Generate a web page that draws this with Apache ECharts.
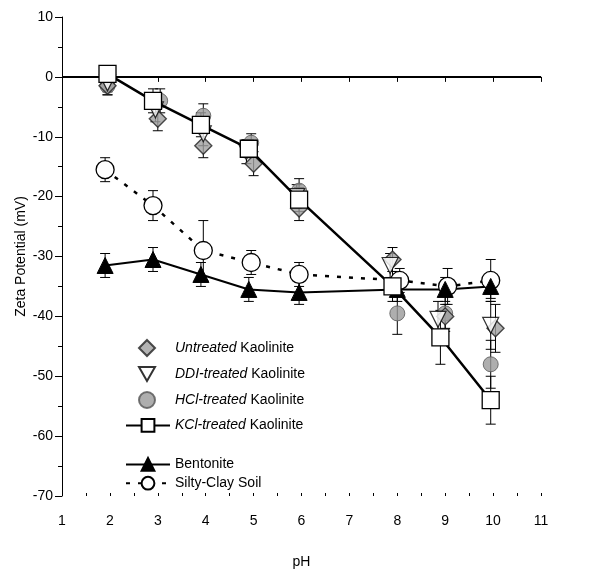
<!DOCTYPE html>
<html>
<head>
<meta charset="utf-8">
<script src="https://cdn.jsdelivr.net/npm/echarts@6/dist/echarts.min.js"></script>
<style>
  html, body { margin: 0; padding: 0; background: #fff; }
  #chart { width: 599px; height: 574px; }
</style>
</head>
<body>
<div id="chart"></div>
<script>
// Zeta potential of clays as a function of pH

// Untreated kaolinite
const untreatedPH   = [1.95, 3.0, 3.95, 5.0, 5.95, 7.9, 9.0, 10.05];
const untreatedZeta = [-1.5, -7, -11.5, -14.5, -22, -30.5, -40, -42];
const untreatedErr  = [1.5, 2, 2, 2, 2, 2, 2, 4];

// DDI-treated kaolinite
const ddiPH   = [1.95, 2.95, 3.95, 4.85, 5.9, 7.85, 8.85, 9.95];
const ddiZeta = [-1, -5.5, -9.5, -12.5, -20, -31.5, -40.5, -41.5];
const ddiErr  = [1.5, 2, 2, 2, 2, 2, 3, 4];

// HCl-treated kaolinite
const hclPH   = [1.95, 3.05, 3.95, 4.95, 5.95, 8.0, 9.0, 9.95];
const hclZeta = [-1.5, -4, -6.5, -11, -19, -39.5, -39.5, -48];
const hclErr  = [1.5, 2, 2, 1.5, 2, 3.5, 3, 4];

// KCl-treated kaolinite
const kclPH   = [1.95, 2.9, 3.9, 4.9, 5.95, 7.9, 8.9, 9.95];
const kclZeta = [0.5, -4, -8, -12, -20.5, -35, -43.5, -54];
const kclErr  = [1, 2, 2, 1.5, 2, 2.5, 4.5, 4];

// Bentonite
const bentPH   = [1.9, 2.9, 3.9, 4.9, 5.95, 8.0, 9.0, 9.95];
const bentZeta = [-31.5, -30.5, -33, -35.5, -36, -35.5, -35.5, -35];
const bentErr  = [2, 2, 2, 2, 2, 2, 2, 2];

// Silty-clay soil
const siltPH   = [1.9, 2.9, 3.95, 4.95, 5.95, 8.05, 9.05, 9.95];
const siltZeta = [-15.5, -21.5, -29, -31, -33, -34, -35, -34];
const siltErr  = [2, 2.5, 5, 2, 2, 2, 3, 3.5];

// Axis ticks
const xTicks = { min: 1, max: 11, step: 1, minorStep: 0.5 };
const yTicks = { min: -70, max: 10, step: 10 };

const FONT = 'Liberation Sans, Arial, sans-serif';

const pts = (xs, ys) => xs.map((x, i) => [x, ys[i]]);
const bars = (xs, ys, es) => xs.map((x, i) => [x, ys[i] - es[i], ys[i] + es[i]]);

function errorBarItem(params, api) {
  const x = api.value(0);
  const lo = api.coord([x, api.value(1)]);
  const hi = api.coord([x, api.value(2)]);
  const hw = 5;
  const style = { stroke: '#000', lineWidth: 1 };
  return {
    type: 'group',
    children: [
      { type: 'line', shape: { x1: lo[0], y1: lo[1], x2: hi[0], y2: hi[1] }, style },
      { type: 'line', shape: { x1: lo[0] - hw, y1: lo[1], x2: lo[0] + hw, y2: lo[1] }, style },
      { type: 'line', shape: { x1: hi[0] - hw, y1: hi[1], x2: hi[0] + hw, y2: hi[1] }, style }
    ]
  };
}

function errSeries(xs, ys, es) {
  return {
    type: 'custom',
    renderItem: errorBarItem,
    data: bars(xs, ys, es),
    encode: { x: 0, y: [1, 2] },
    z: 1,
    silent: true,
    tooltip: { show: false }
  };
}

// Legend labels; the spacer keeps marker-only entries aligned with line entries
const labelText = {
  'Untreated Kaolinite': '{sp|}{i|Untreated} Kaolinite',
  'DDI-treated Kaolinite': '{sp|}{i|DDI-treated} Kaolinite',
  'HCl-treated Kaolinite': '{sp|}{i|HCl-treated} Kaolinite',
  'KCl-treated Kaolinite': '{i|KCl-treated} Kaolinite',
  'Bentonite': 'Bentonite',
  'Silty-Clay Soil': 'Silty-Clay Soil'
};

const legendText = {
  fontFamily: FONT, fontSize: 14, color: '#000',
  rich: {
    i: { fontFamily: FONT, fontSize: 14, fontStyle: 'italic', color: '#000' },
    sp: { width: 15 }
  }
};

const legendBase = {
  orient: 'vertical',
  itemHeight: 16,
  formatter: n => labelText[n],
  textStyle: legendText,
  selectedMode: false
};

// downward-pointing triangle for the DDI legend entry
const downTriangle = 'path://M0,0L16,0L8,14Z';

const chart = echarts.init(document.getElementById('chart'), null, { renderer: 'canvas' });

chart.setOption({
  animation: false,
  backgroundColor: '#fff',
  grid: { left: 62, top: 17, right: 58, bottom: 77, containLabel: false },
  xAxis: [
    {
      type: 'value',
      min: xTicks.min, max: xTicks.max, interval: xTicks.step,
      name: 'pH', nameLocation: 'middle', nameGap: 59,
      nameTextStyle: { fontFamily: FONT, fontSize: 14, color: '#000' },
      axisLine: { lineStyle: { color: '#000', width: 1 } },
      axisTick: { length: 5, lineStyle: { color: '#000' } },
      axisLabel: { fontFamily: FONT, fontSize: 14, color: '#000', margin: 18 },
      splitLine: { show: false }
    },
    {
      // short inward ticks at every half unit
      type: 'value', position: 'bottom',
      min: xTicks.min, max: xTicks.max, interval: xTicks.minorStep,
      axisLine: { show: false },
      axisTick: { show: true, inside: true, length: 3, lineStyle: { color: '#000' } },
      axisLabel: { show: false },
      splitLine: { show: false }
    }
  ],
  yAxis: {
    type: 'value',
    min: yTicks.min, max: yTicks.max, interval: yTicks.step,
    name: 'Zeta Potential (mV)', nameLocation: 'middle', nameGap: 34, nameRotate: 90,
    nameMoveOverlap: false,
    nameTextStyle: { fontFamily: FONT, fontSize: 14, color: '#000' },
    axisLine: { show: true, lineStyle: { color: '#000', width: 1 } },
    axisTick: { show: true, length: 7, lineStyle: { color: '#000' } },
    minorTick: { show: true, splitNumber: 2, length: 4, lineStyle: { color: '#000' } },
    axisLabel: { fontFamily: FONT, fontSize: 14, color: '#000', margin: 9 },
    splitLine: { show: false }
  },
  legend: [
    Object.assign({}, legendBase, {
      data: [
        'Untreated Kaolinite',
        { name: 'DDI-treated Kaolinite', icon: downTriangle },
        'HCl-treated Kaolinite'
      ],
      left: 133, top: 334, itemWidth: 16, itemGap: 9
    }),
    Object.assign({}, legendBase, {
      data: ['KCl-treated Kaolinite'],
      left: 120, top: 413, itemWidth: 44, itemGap: 8
    }),
    Object.assign({}, legendBase, {
      data: ['Bentonite', 'Silty-Clay Soil'],
      left: 120, top: 452, itemWidth: 44, itemGap: 4
    })
  ],
  series: [
    errSeries(siltPH, siltZeta, siltErr),
    errSeries(bentPH, bentZeta, bentErr),
    errSeries(hclPH, hclZeta, hclErr),
    errSeries(untreatedPH, untreatedZeta, untreatedErr),
    errSeries(ddiPH, ddiZeta, ddiErr),
    errSeries(kclPH, kclZeta, kclErr),
    {
      name: 'Silty-Clay Soil', type: 'line', data: pts(siltPH, siltZeta),
      symbol: 'circle', symbolSize: 18, z: 3,
      lineStyle: { color: '#000', width: 2.5, type: [4, 8] },
      itemStyle: { color: '#fff', borderColor: '#000', borderWidth: 1.3 }
    },
    {
      name: 'Bentonite', type: 'line', data: pts(bentPH, bentZeta),
      symbol: 'triangle', symbolSize: 16, z: 3,
      lineStyle: { color: '#000', width: 2 },
      itemStyle: { color: '#000', borderColor: '#000', borderWidth: 1 }
    },
    {
      name: 'HCl-treated Kaolinite', type: 'scatter', data: pts(hclPH, hclZeta),
      symbol: 'circle', symbolSize: 15, z: 4,
      itemStyle: { color: '#9a9a9a', borderColor: '#555', borderWidth: 1 }
    },
    {
      name: 'Untreated Kaolinite', type: 'scatter', data: pts(untreatedPH, untreatedZeta),
      symbol: 'diamond', symbolSize: 17, z: 5,
      itemStyle: { color: '#a0a0a0', borderColor: '#222', borderWidth: 1.4 }
    },
    {
      name: 'DDI-treated Kaolinite', type: 'scatter', data: pts(ddiPH, ddiZeta),
      symbol: 'triangle', symbolRotate: 180, symbolSize: 16, z: 6,
      itemStyle: { color: '#fff', borderColor: '#000', borderWidth: 1.2 }
    },
    {
      name: 'KCl-treated Kaolinite', type: 'line', data: pts(kclPH, kclZeta),
      symbol: 'rect', symbolSize: 17, z: 7,
      lineStyle: { color: '#000', width: 2.5 },
      itemStyle: { color: '#fff', borderColor: '#000', borderWidth: 1.3 },
      markLine: {
        silent: true, symbol: 'none', label: { show: false },
        lineStyle: { color: '#000', width: 2, type: 'solid' },
        emphasis: { disabled: true },
        data: [{ yAxis: 0 }]
      }
    }
  ]
});
</script>
</body>
</html>
